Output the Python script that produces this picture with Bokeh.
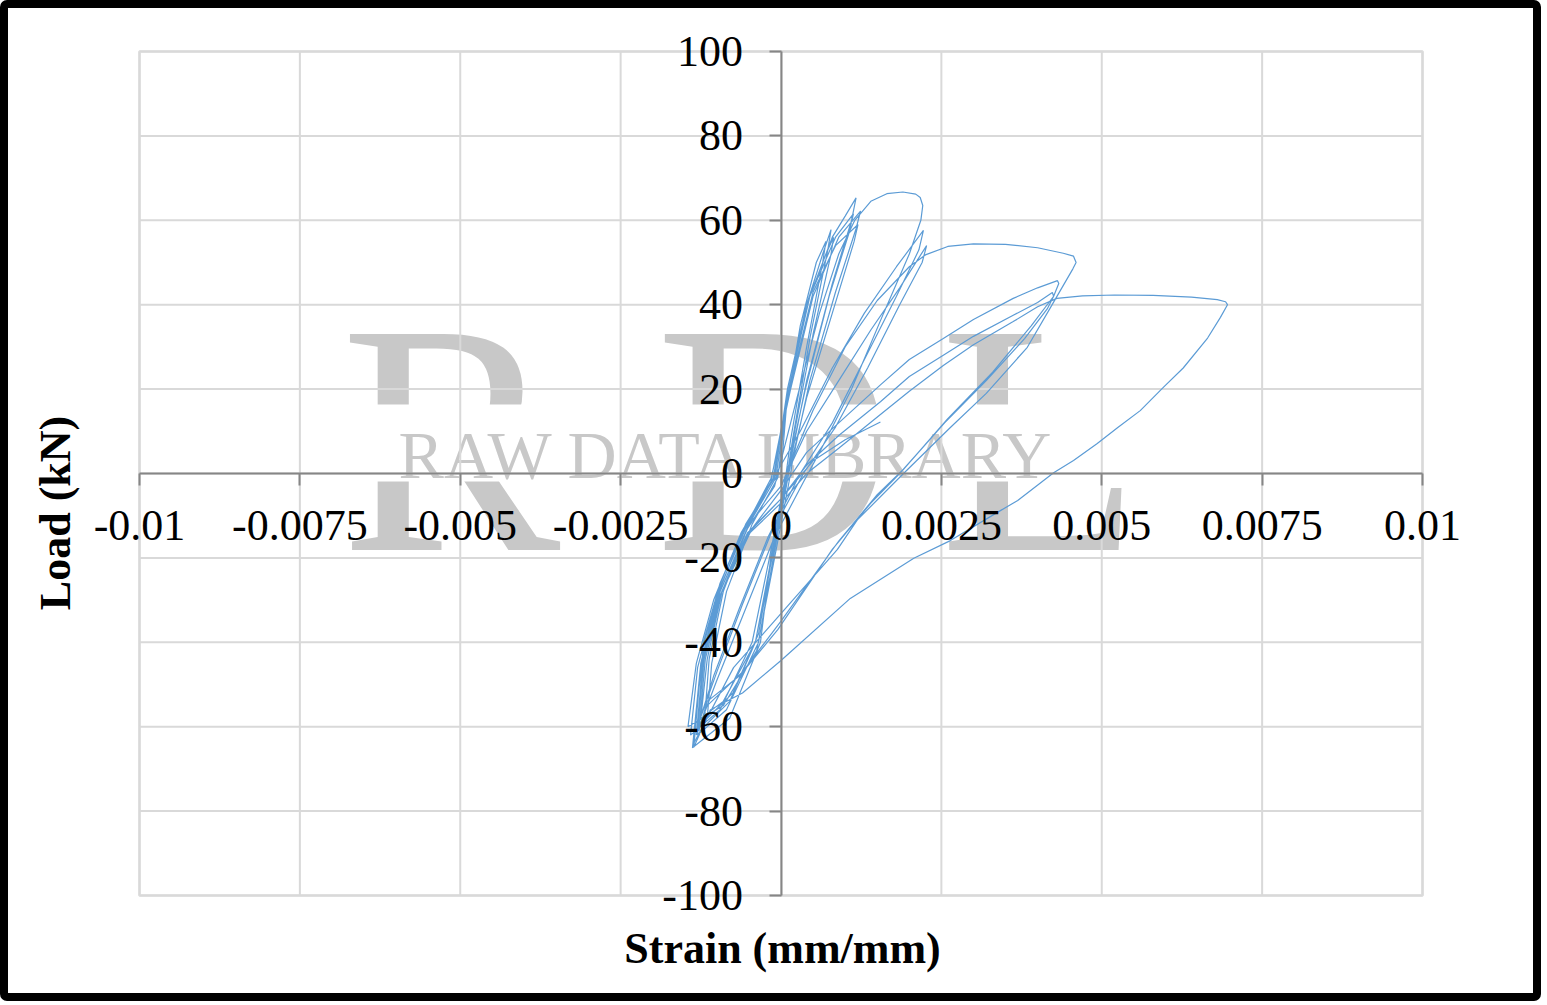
import math
from bokeh.plotting import figure
from bokeh.models import FixedTicker, Label, ColumnDataSource, BoxAnnotation
from bokeh.embed import file_html
from bokeh.resources import INLINE

# ---------------- data (strain in 1e-3 mm/mm, load in kN) ----------------
dense_strain_milli = [
    0.00, 0.08, 0.30, 0.55, 0.70, 0.65, 0.40, 0.15, 0.08, -0.12, -0.35, -0.75, -1.15, -1.08, -0.85, -0.45, -0.05,
    0.10, 0.40, 0.65, 0.78, 0.73, 0.45, 0.18, 0.10, -0.15, -0.40, -0.80, -1.20, -1.12, -0.90, -0.50, -0.08,
    0.12, 0.45, 0.70, 0.82, 0.78, 0.50, 0.20, 0.12, -0.12, -0.35, -0.85, -1.30, -1.21, -0.95, -0.55, -0.10,
    0.10, 0.40, 0.80, 1.00, 1.17, 1.10, 0.80, 0.40, 0.15, 0.10, -0.16, -0.32, -0.80, -1.38, -1.25, -0.98, -0.55, -0.12,
    0.12, 0.45, 0.85, 1.13, 1.06, 0.75, 0.38, 0.12, 0.08, -0.18, -0.45, -0.95, -1.41, -1.30, -1.02, -0.60, -0.15,
    0.15, 0.50, 0.90, 1.24, 1.17, 0.85, 0.45, 0.18, 0.15, -0.10, -0.38, -0.90, -1.45, -1.32, -1.05, -0.62, -0.16,
    0.10, 0.50, 0.85, 1.20, 1.14, 0.80, 0.40, 0.15, 0.12, -0.14, -0.40, -0.90, -1.25, -1.15, -0.92, -0.50, -0.15,
]
dense_load_kN = [
    0, 15, 35, 50, 55, 50, 30, 8, 0, -18, -38, -52, -58, -45, -28, -12, -1,
    18, 40, 52, 57.8, 53, 32, 8, 0, -20, -40, -54, -60, -44, -28, -12, -1,
    20, 42, 52, 56, 52, 33, 9, 0, -20, -40, -56, -62, -40, -26, -12, -1,
    20, 40, 56, 61, 65.3, 60, 45, 22, 3, 0, -20, -40, -58, -65, -45, -28, -13, -1,
    20, 42, 56, 61.6, 57, 42, 20, 2, 0, -20, -40, -56, -62, -46, -30, -14, -1,
    20, 42, 56, 62.2, 58, 43, 22, 3, 0, -20, -42, -55, -60, -45, -30, -14, -2,
    18, 43, 54, 59, 55, 38, 18, 2, 0, -20, -40, -54, -58, -44, -28, -12, -2,
]

mid_strain_milli = [
    0.30, 0.80, 1.30, 1.80, 2.22, 2.15, 1.80, 1.30, 0.80, 0.30, -0.20, -0.65, -1.05, -1.30,
    -1.20, -0.95, -0.50, 0.00,
    0.40, 0.90, 1.40, 1.85, 2.27, 2.20, 1.85, 1.35, 0.85, 0.35, -0.15, -0.60, -1.00, -1.35,
    -1.24, -0.98, -0.52, -0.10,
    0.25, 0.60, 0.90, 1.15, 1.40, 1.65, 1.90, 2.10, 2.17, 2.21, 2.18, 2.00, 1.60, 1.10, 0.60,
    0.35, -0.10, -0.55, -1.00, -1.30,
]
mid_load_kN = [
    10, 25, 38, 49, 57.6, 53, 42, 27, 12, 0, -15, -32, -48, -60,
    -44, -28, -12, -3,
    10, 22, 34, 44, 54, 50, 40, 25, 11, 0, -14, -31, -47, -62,
    -45, -29, -13, -3,
    18, 38, 52, 60, 64.5, 66.3, 66.7, 66.2, 65.4, 63.5, 60, 52, 38, 20, 5,
    -2, -15, -32, -49, -61,
]

large_strain_milli = [
    -1.20, -0.95, -0.50, 0.00, 0.50, 1.00, 1.50, 2.00, 2.25, 2.60, 3.00, 3.50, 4.00, 4.40,
    4.56, 4.60, 4.55, 4.20, 3.84, 3.20, 2.64, 1.91, 1.19, 0.88, 0.04, -0.74, -1.36,
    -1.25, -0.98, -0.50, 0.00, 0.40, 0.90, 1.55, 2.00, 2.53, 3.00, 3.62, 4.00, 4.31,
    4.33, 4.25, 3.90, 3.30, 2.60, 1.91, 1.50, 0.90, 0.00, -0.60, -1.15, -1.32,
    -1.22, -0.95, -0.50, 0.00, 0.40, 0.90, 1.55, 2.00, 2.53, 3.00, 3.62, 4.00, 4.23,
    4.25, 4.15, 3.80, 3.20, 2.55, 1.85, 1.40, 0.80, -0.05, -0.65, -1.15, -1.28,
    -1.18, -0.92, -0.48, 0.00, 0.40, 0.90, 1.55, 2.00, 2.53, 3.00, 3.62, 4.00, 4.30,
    4.70, 5.20, 5.80, 6.40, 6.80, 6.93, 6.96, 6.85, 6.65, 6.27, 5.96, 5.60, 5.25, 4.93,
    4.56, 4.25, 3.69, 3.42, 2.64, 2.07, 1.08, 0.00, -0.60, -1.10, -1.36,
    -1.25, -0.98, -0.52, 0.00, 0.50, 1.00, 1.55,
]
large_load_kN = [
    -44, -28, -12, -3, 15, 30, 41, 49, 51.8, 53.8, 54.4, 54.3, 53.5, 52.2,
    51.5, 50, 48.5, 39.3, 29.9, 19, 10.9, 0, -11, -18, -32.5, -46, -64,
    -46, -30, -14, -4, 5, 12, 21, 27, 32, 36.5, 41.5, 44, 45.7,
    45, 42, 35, 24, 13, 1, -5, -16, -35, -47, -55, -62,
    -45, -29, -14, -6, 2, 9, 17, 23, 28, 32.5, 37.5, 40.5, 42.9,
    42, 39, 32, 22, 12, 0, -7, -18, -37, -48, -54, -61,
    -44, -28, -14, -7, 0, 6, 14, 19.5, 25.6, 30.5, 36, 39.5, 41.5,
    42.1, 42.3, 42.2, 41.8, 41.2, 40.7, 40, 37, 32.1, 25, 20.4, 14.9, 10.9, 7.1,
    3.1, 0.2, -6.4, -8.8, -15.9, -20.1, -29.6, -44.3, -52, -56, -64.9,
    -46, -30, -14, -6, 3, 8, 12.2,
]

x_ticks = [-0.01, -0.0075, -0.005, -0.0025, 0.0, 0.0025, 0.005, 0.0075, 0.01]
x_tick_labels = ["-0.01", "-0.0075", "-0.005", "-0.0025", "0", "0.0025", "0.005", "0.0075", "0.01"]
y_ticks = [-100, -80, -60, -40, -20, 0, 20, 40, 60, 80, 100]
y_tick_labels = ["-100", "-80", "-60", "-40", "-20", "0", "20", "40", "60", "80", "100"]

x_title = "Strain (mm/mm)"
y_title = "Load (kN)"
watermark_letters = ["R", "D", "L"]
watermark_text = "RAW DATA LIBRARY"

# ---------------- layout geometry (pixels) ----------------
W, H = 1541, 1001            # outer box incl. 8px black border
OX, OY = 8, 8                # canvas origin inside the border
FL, FR, FT, FB = 139, 1422, 51, 895   # plot-area edges on the page
XMIN, XMAX, YMIN, YMAX = x_ticks[0], x_ticks[-1], y_ticks[0], y_ticks[-1]
kx = (FR - FL) / (XMAX - XMIN)
ky = (FB - FT) / (YMAX - YMIN)
xs = XMIN - (FL - OX) / kx
xe = xs + W / kx
ye = YMAX + (FT - OY) / ky
ys = ye - H / ky


def sx(px):
    return px - OX


def sy(py):
    return (OY + H) - py


def dx(px):
    return xs + (px - OX) / kx


def dy(py):
    return ye - (py - OY) / ky


# ---------------- build ----------------
strain = [v / 1000.0 for v in dense_strain_milli + mid_strain_milli + large_strain_milli]
load = dense_load_kN + mid_load_kN + large_load_kN
src = ColumnDataSource(data=dict(x=strain, y=load))

SERIF = "Liberation Serif"

p = figure(width=W, height=H, x_range=(xs, xe), y_range=(ys, ye),
           output_backend="svg", toolbar_location=None,
           min_border=0, min_border_left=0, min_border_right=0,
           min_border_top=0, min_border_bottom=0)
p.styles = {"border": "8px solid black", "border-radius": "7px", "overflow": "hidden"}
p.background_fill_color = "white"
p.border_fill_color = "white"
p.outline_line_color = None
p.xgrid.visible = False
p.ygrid.visible = False

# watermark big letters (lowest layer)
wm_color = "#c8c8c8"
for letter, cx in zip(watermark_letters, [450, 774, 1040]):
    p.add_layout(Label(x=sx(cx), y=sy(553 - 115), x_units="screen", y_units="screen", text=letter,
                       text_font=SERIF, text_font_size="330px", text_color=wm_color,
                       text_align="center", text_baseline="alphabetic", level="image"))
# white band behind the watermark caption, then the caption
p.add_layout(BoxAnnotation(left=dx(352), right=dx(1170), top=dy(404), bottom=dy(481),
                           fill_color="white", fill_alpha=1, line_color=None, level="underlay"))
p.add_layout(Label(x=sx(727), y=sy(477 - 23), x_units="screen", y_units="screen", text=watermark_text,
                   text_font=SERIF, text_font_size="68px", text_color=wm_color,
                   text_align="center", text_baseline="alphabetic", level="underlay"))

# plot-area outline
p.add_layout(BoxAnnotation(left=XMIN, right=XMAX, bottom=YMIN, top=YMAX,
                           fill_alpha=0, fill_color=None, line_color="#a6a6a6",
                           line_width=3, level="image"))

# gridlines restricted to the plot area
p.segment(x0=x_ticks, y0=[YMIN] * len(x_ticks), x1=x_ticks, y1=[YMAX] * len(x_ticks),
          line_color="#d9d9d9", line_width=2)
p.segment(x0=[XMIN] * len(y_ticks), y0=y_ticks, x1=[XMAX] * len(y_ticks), y1=y_ticks,
          line_color="#d9d9d9", line_width=2)

for ax in (p.xaxis, p.yaxis):
    ax.fixed_location = 0
    ax.axis_line_color = "#868686"
    ax.axis_line_width = 2
    ax.major_tick_line_color = "#868686"
    ax.major_tick_line_width = 2
    ax.major_tick_out = 12
    ax.major_tick_in = 0
    ax.minor_tick_line_color = None
    ax.major_label_text_font = SERIF
    ax.major_label_text_font_size = "44px"
    ax.major_label_text_color = "black"

p.xaxis.bounds = (XMIN, XMAX)
p.yaxis.bounds = (YMIN, YMAX)
p.xaxis.ticker = FixedTicker(ticks=x_ticks)
p.xaxis.major_label_overrides = {t: s for t, s in zip(x_ticks, x_tick_labels)}
p.xaxis.major_label_standoff = 25
p.yaxis.ticker = FixedTicker(ticks=y_ticks)
p.yaxis.major_label_overrides = {t: s for t, s in zip(y_ticks, y_tick_labels)}
p.yaxis.major_label_standoff = 26

p.line("x", "y", source=src, line_color="#5b9bd5", line_width=1.2)

# axis titles
p.add_layout(Label(x=sx(782), y=sy(963 - 15), x_units="screen", y_units="screen", text=x_title,
                   text_font=SERIF, text_font_style="bold", text_font_size="44px",
                   text_color="black", text_align="center", text_baseline="alphabetic"))
p.add_layout(Label(x=sx(70 - 15), y=sy(512.5), x_units="screen", y_units="screen", text=y_title,
                   angle=math.pi / 2, text_font=SERIF, text_font_style="bold",
                   text_font_size="44px", text_color="black", text_align="center",
                   text_baseline="alphabetic"))

open("out.html", "w").write(file_html(p, INLINE))
